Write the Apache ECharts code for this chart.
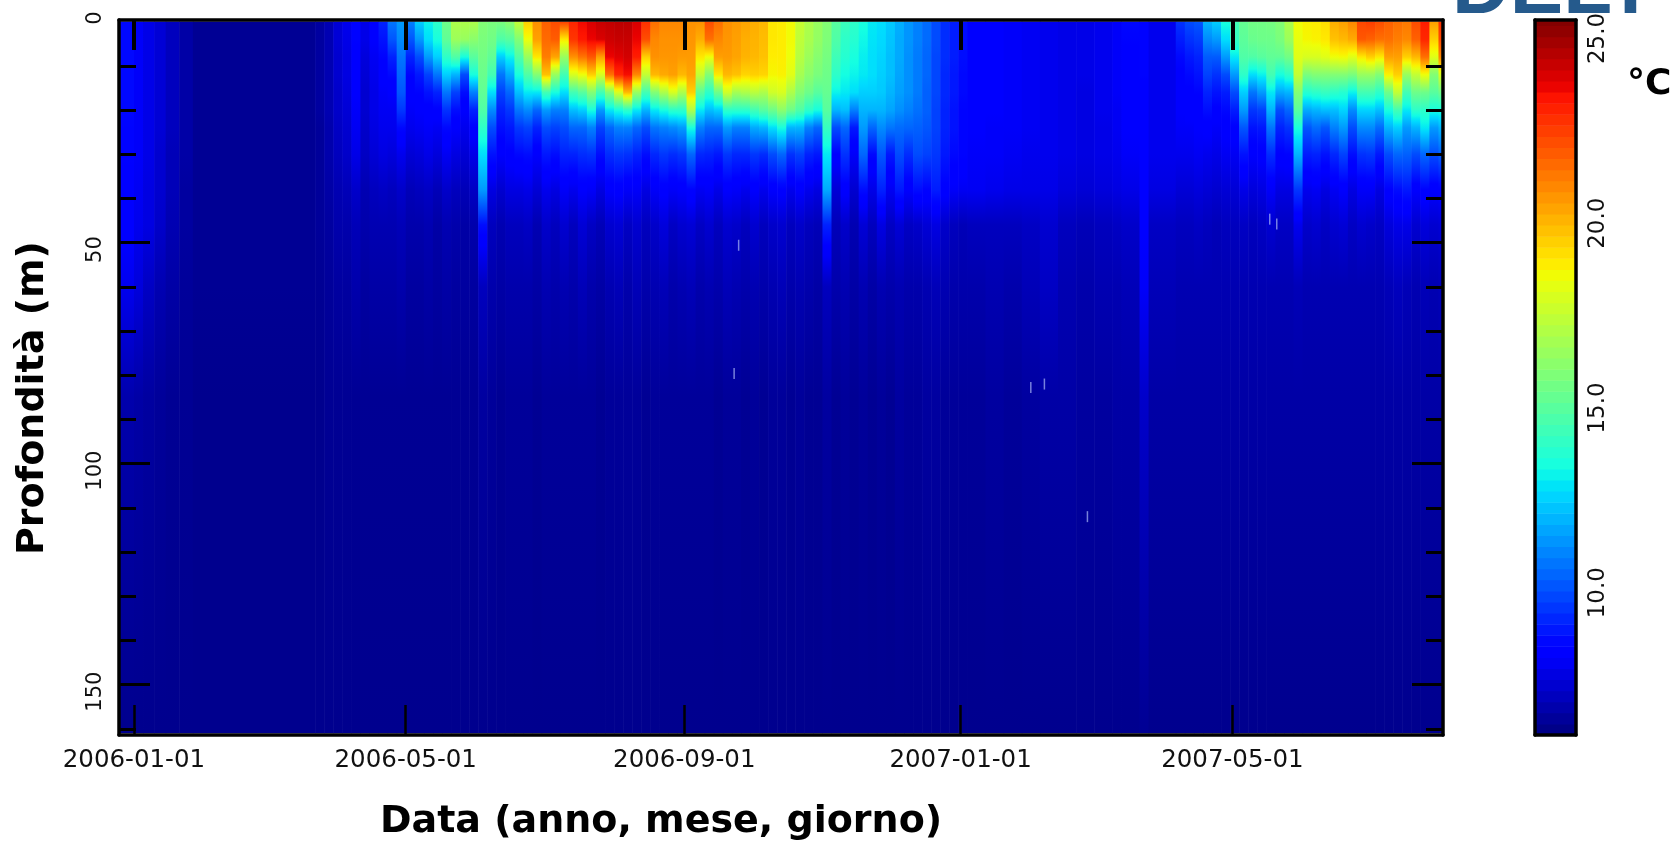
<!DOCTYPE html>
<html>
<head>
<meta charset="utf-8">
<title>Profondità / temperatura</title>
<style>
    html, body { margin: 0; padding: 0; background: #fff; overflow: hidden; }
    #chart { width: 1671px; height: 842px; }
</style>
<script src="https://cdn.jsdelivr.net/npm/echarts@6/dist/echarts.min.js"></script>
</head>
<body>
<div id="chart"></div>
<script>
/* ===== Dati ===== */
// asse x in giorni dal 2006-01-01
const xMinDay = -6.6;
const xMaxDay = 578;
const xTickDays = [0, 120, 243, 365, 485];
const xTickLabels = ["2006-01-01", "2006-05-01", "2006-09-01", "2007-01-01", "2007-05-01"];
const depthMin = -0.36;
const depthMax = 161.4;
const depthLabels = [0, 50, 100, 150];
const depthMajorTicks = [50, 100, 150];
const depthMinorTicks = [10, 20, 30, 40, 60, 70, 80, 90, 110, 120, 130, 140, 160];
const tempMin = 6.15;
const tempMax = 25.5;
const tempLabels = [10, 15, 20, 25];

// profondità (m) dei valori di ogni riga di temperatures
const depthLevels = [0, 4, 8, 12, 16, 20, 24, 30, 38, 46, 60, 85, 161];

// giorno in cui comincia ogni colonna
const columnDays = [
    -7, 0, 4, 9, 14, 20, 26, 80, 84, 88, 92, 96, 100, 104,
    108, 112, 116, 120, 124, 128, 132, 136, 140, 144, 148, 152, 156, 160, 164, 168,
    172, 176, 180, 184, 188, 192, 196, 200, 204, 208, 212, 216, 220, 224, 228, 232,
    236, 240, 244, 248, 252, 256, 260, 264, 268, 272, 276, 280, 284, 288, 292, 296,
    300, 304, 308, 312, 316, 320, 324, 328, 332, 336, 340, 344, 348, 352, 356, 360, 364,
    368, 376, 384, 392, 400, 408, 416, 424, 432, 436, 444, 448,
    460, 464, 468, 472, 476, 480, 484, 488, 492, 496, 500, 504, 508, 512, 516, 520,
    524, 528, 532, 536, 540, 544, 548, 552, 556, 560, 564, 568, 572, 576
];

const temperatures = [
    // gen - apr 2006
    [8.7,8.7,8.7,8.7,8.7,8.7,8.6,8.6,8.5,8.4,8.0,6.9,6.4],
    [8.2,8.2,8.2,8.2,8.2,8.2,8.2,8.2,8.1,8.0,7.7,6.8,6.4],
    [7.9,7.9,7.9,7.9,7.9,7.9,7.9,7.9,7.8,7.8,7.3,6.7,6.4],
    [7.6,7.6,7.6,7.6,7.6,7.6,7.6,7.5,7.5,7.4,7.0,6.6,6.4],
    [7.2,7.2,7.2,7.2,7.2,7.2,7.2,7.1,7.1,7.0,6.8,6.5,6.4],
    [6.8,6.8,6.8,6.8,6.8,6.8,6.8,6.8,6.7,6.7,6.6,6.5,6.4],
    [6.5,6.5,6.5,6.5,6.5,6.5,6.5,6.5,6.5,6.5,6.5,6.4,6.4],
    [6.7,6.7,6.7,6.7,6.7,6.7,6.6,6.6,6.6,6.6,6.5,6.4,6.4],
    [7.0,7.0,7.0,7.0,7.0,7.0,6.9,6.9,6.8,6.7,6.6,6.5,6.4],
    [7.6,7.6,7.5,7.5,7.4,7.4,7.3,7.2,7.0,6.9,6.7,6.5,6.4],
    [8.0,7.9,7.8,7.8,7.7,7.6,7.5,7.4,7.1,6.9,6.7,6.5,6.4],
    [8.6,8.6,8.5,8.4,8.3,8.2,8.1,7.9,7.4,7.1,6.9,6.5,6.4],
    [7.9,7.9,7.7,7.6,7.5,7.5,7.4,7.3,7.0,6.9,6.7,6.5,6.4],
    [8.4,8.3,8.1,8.0,7.9,7.9,7.8,7.6,7.2,7.0,6.8,6.5,6.4],
    // mag - ago 2006
    [9.2,8.9,8.6,8.4,8.2,8.1,8.0,7.8,7.3,7.0,6.8,6.5,6.4],
    [10.8,10.2,9.2,8.7,8.3,8.1,8.0,7.7,7.2,7.0,6.8,6.5,6.4],
    [11.5,11.2,10.8,10.5,10.2,9.6,8.7,8.0,7.4,7.1,6.9,6.5,6.4],
    [11.0,10.2,9.2,8.6,8.4,8.2,8.0,7.6,7.1,6.9,6.7,6.5,6.4],
    [12.5,11.5,10.0,9.0,8.6,8.3,8.1,7.7,7.2,6.9,6.7,6.5,6.4],
    [13.2,12.8,11.5,9.8,8.9,8.4,8.2,7.9,7.3,7.0,6.8,6.5,6.4],
    [14.0,13.5,12.5,10.8,9.2,8.5,8.1,7.7,7.1,6.8,6.7,6.5,6.4],
    [15.5,15.2,14.0,12.5,10.8,9.5,8.7,8.1,7.4,7.0,6.8,6.5,6.4],
    [17.0,16.6,14.8,12.0,9.8,8.8,8.3,7.8,7.2,6.9,6.7,6.5,6.4],
    [17.0,16.5,13.5,10.0,8.8,8.3,8.0,7.6,7.1,6.8,6.7,6.5,6.4],
    [17.0,16.2,15.0,13.5,11.0,9.2,8.5,7.9,7.3,6.9,6.7,6.5,6.4],
    [16.0,15.8,15.6,15.4,15.2,14.8,14.0,12.8,11.5,8.8,7.2,6.7,6.4],
    [15.8,15.6,15.2,14.5,12.8,11.2,10.0,8.9,7.8,7.2,6.9,6.6,6.4],
    [15.8,14.8,12.5,10.8,9.8,9.2,8.8,8.3,7.5,7.0,6.8,6.5,6.4],
    [16.2,15.0,13.2,11.8,10.5,9.6,9.0,8.5,7.8,7.2,6.9,6.6,6.4],
    [17.5,16.0,14.8,13.5,12.2,10.8,9.6,8.7,7.8,7.2,6.9,6.6,6.4],
    [19.5,18.5,16.5,14.8,13.0,11.2,9.8,8.8,7.9,7.3,6.9,6.6,6.4],
    [20.8,20.5,19.0,16.0,13.0,10.5,9.2,8.3,7.6,7.0,6.8,6.5,6.4],
    [21.8,21.6,21.2,19.8,14.5,11.5,10.0,9.0,8.0,7.4,7.0,6.6,6.4],
    [22.2,21.9,20.4,16.5,13.5,11.0,9.8,8.8,7.8,7.2,6.9,6.6,6.4],
    [22.5,19.0,16.5,14.5,12.8,11.0,10.0,9.2,8.2,7.5,7.0,6.6,6.4],
    [23.0,22.7,20.8,18.0,14.5,12.2,10.5,9.2,8.0,7.2,6.9,6.6,6.4],
    [23.6,23.3,21.4,18.5,15.0,12.5,10.5,9.4,8.3,7.6,7.1,6.6,6.4],
    [24.0,23.7,22.0,19.5,16.0,13.5,11.0,9.5,8.2,7.3,6.9,6.6,6.4],
    [24.3,24.0,20.5,18.0,14.5,11.5,9.8,8.8,7.8,7.1,6.8,6.5,6.4],
    [24.4,24.2,23.7,21.5,16.0,13.0,10.5,9.4,8.3,7.5,7.0,6.6,6.4],
    [24.5,24.3,23.9,23.0,18.0,13.5,11.0,9.6,8.4,7.6,7.1,6.6,6.4],
    [24.5,24.3,24.1,23.5,20.0,14.0,11.0,9.5,8.2,7.3,6.9,6.6,6.4],
    [24.0,23.7,23.2,21.0,16.5,13.0,10.5,9.2,8.2,7.5,7.1,6.6,6.4],
    [22.8,22.2,19.5,17.5,14.5,12.0,10.0,8.8,7.8,7.2,6.9,6.5,6.4],
    [21.5,21.0,20.8,20.0,16.0,13.0,10.8,9.3,8.2,7.4,7.0,6.6,6.4],
    [21.0,20.8,20.7,20.3,17.0,13.5,11.0,9.6,8.4,7.7,7.1,6.6,6.4],
    [21.0,20.8,20.7,20.5,18.0,14.0,11.2,9.4,8.2,7.3,6.9,6.6,6.4],
    [21.0,20.8,20.6,20.0,17.0,14.0,11.5,9.6,8.3,7.5,7.0,6.6,6.4],
    [20.8,20.7,20.6,20.4,19.5,17.0,13.5,10.5,8.6,7.6,7.1,6.6,6.4],
    [20.8,20.2,19.0,17.5,15.0,13.0,11.0,9.3,8.1,7.3,6.9,6.6,6.4],
    [22.2,21.5,18.5,16.0,14.0,12.2,10.5,9.2,8.2,7.5,7.0,6.6,6.4],
    [21.5,21.0,20.5,19.0,15.5,12.5,10.5,9.0,7.9,7.2,6.9,6.5,6.4],
    [20.8,20.7,20.6,20.0,17.8,14.0,11.5,9.6,8.3,7.5,7.1,6.6,6.4],
    [20.6,20.5,20.4,19.8,16.8,14.0,11.0,9.3,8.2,7.4,7.0,6.6,6.4],
    [20.4,20.2,20.1,19.4,17.0,14.0,11.0,9.3,8.0,7.2,6.9,6.5,6.4],
    [20.2,20.1,20.0,19.5,17.3,14.5,11.8,9.6,8.3,7.5,7.0,6.6,6.4],
    [20.0,19.9,19.8,19.4,17.0,15.0,12.0,9.4,8.0,7.2,6.9,6.5,6.4],
    [19.0,19.0,18.9,18.7,17.8,15.5,12.8,10.0,8.3,7.4,7.0,6.6,6.4],
    [18.9,18.9,18.9,18.8,18.0,16.2,13.5,10.5,8.4,7.5,7.1,6.6,6.4],
    [18.6,18.6,18.5,18.2,17.0,15.5,12.0,9.5,8.0,7.2,6.9,6.5,6.4],
    // set - dic 2006
    [17.6,17.4,17.2,16.8,16.0,14.8,12.0,9.8,8.3,7.4,7.0,6.6,6.4],
    [17.0,16.9,16.6,16.2,15.5,14.0,11.0,9.2,8.0,7.2,6.9,6.5,6.4],
    [16.5,16.4,16.1,15.8,15.0,13.5,10.5,9.0,7.8,7.1,6.8,6.5,6.4],
    [16.0,15.9,15.7,15.5,15.3,15.0,14.2,13.0,11.8,9.2,7.2,6.7,6.4],
    [15.0,14.8,14.4,14.0,13.2,12.0,10.0,8.5,7.6,7.1,6.9,6.5,6.4],
    [14.3,14.0,13.8,13.4,13.0,12.2,10.5,9.5,8.4,7.4,7.0,6.6,6.4],
    [14.0,13.8,13.5,13.2,12.8,11.0,9.0,8.2,7.5,7.0,6.8,6.5,6.4],
    [13.5,13.3,13.1,13.0,12.5,12.0,11.5,10.5,8.8,7.6,7.0,6.6,6.4],
    [13.0,12.9,12.8,12.8,12.5,12.0,10.5,8.7,7.9,7.2,6.8,6.5,6.4],
    [12.8,12.7,12.6,12.5,12.4,12.0,11.2,10.2,9.2,7.8,7.0,6.6,6.4],
    [12.4,12.3,12.2,12.2,12.0,11.7,10.8,9.0,8.1,7.3,6.9,6.5,6.4],
    [11.9,11.8,11.8,11.7,11.6,11.3,10.6,10.0,9.0,7.6,7.0,6.7,6.4],
    [11.4,11.4,11.3,11.3,11.3,11.0,10.5,9.4,8.3,7.3,6.9,6.6,6.4],
    [11.0,11.0,10.9,10.9,10.9,10.7,10.4,10.0,8.8,7.4,6.9,6.6,6.4],
    [10.6,10.6,10.5,10.5,10.4,10.4,10.2,9.8,8.6,7.6,7.0,6.7,6.4],
    [10.0,10.0,9.9,9.9,9.9,9.8,9.8,9.6,9.1,7.8,7.1,6.7,6.4],
    [9.4,9.4,9.4,9.3,9.3,9.2,9.2,9.0,8.5,7.4,7.0,6.6,6.4],
    [9.1,9.1,9.1,9.0,9.0,8.9,8.9,8.7,8.2,7.2,6.9,6.6,6.4],
    [8.8,8.8,8.8,8.7,8.7,8.6,8.6,8.6,8.1,7.1,6.9,6.6,6.4],
    // gen - apr 2007
    [8.4,8.4,8.4,8.4,8.3,8.3,8.3,8.2,8.1,7.2,6.9,6.6,6.4],
    [8.3,8.3,8.3,8.3,8.3,8.3,8.2,8.2,8.0,7.2,7.0,6.7,6.4],
    [8.2,8.2,8.2,8.2,8.2,8.2,8.2,8.1,7.9,7.2,6.9,6.6,6.4],
    [8.1,8.1,8.1,8.1,8.1,8.1,8.1,8.0,7.9,7.3,7.1,6.7,6.4],
    [8.0,8.0,8.0,8.0,8.0,8.0,8.0,8.0,7.9,7.5,7.3,6.8,6.4],
    [7.9,7.9,7.9,7.9,7.9,7.9,7.9,7.9,7.7,7.2,7.0,6.8,6.4],
    [7.9,7.9,7.9,7.9,7.8,7.8,7.8,7.8,7.6,7.1,6.9,6.7,6.4],
    [8.0,8.0,8.0,8.0,8.0,8.0,7.9,7.9,7.7,7.2,7.0,6.7,6.4],
    [8.2,8.2,8.2,8.2,8.2,8.1,8.1,8.0,7.8,7.3,7.0,6.8,6.4],
    [8.7,8.6,8.5,8.4,8.4,8.3,8.3,8.2,7.9,7.4,7.1,6.8,6.4],
    [8.6,8.6,8.6,8.6,8.5,8.5,8.5,8.4,8.4,8.3,8.2,7.4,6.5],
    [8.0,8.0,8.0,8.0,8.0,8.0,8.0,8.0,7.8,7.3,7.1,6.8,6.4],
    // mag - lug 2007
    [9.5,9.1,8.7,8.5,8.4,8.3,8.2,8.0,7.6,7.2,7.0,6.8,6.4],
    [10.0,9.5,9.0,8.7,8.5,8.4,8.2,8.0,7.6,7.2,7.0,6.8,6.4],
    [10.2,9.7,9.2,8.9,8.6,8.4,8.3,8.1,7.7,7.3,7.0,6.8,6.4],
    [12.0,11.2,10.3,9.8,9.2,8.8,8.4,8.0,7.6,7.2,7.0,6.8,6.4],
    [12.5,11.5,10.3,9.5,8.9,8.5,8.2,7.9,7.5,7.1,7.0,6.8,6.4],
    [13.5,12.8,11.5,10.0,9.1,8.7,8.4,8.1,7.6,7.2,7.0,6.8,6.4],
    [14.5,14.2,13.0,11.5,10.0,9.1,8.5,8.1,7.6,7.2,7.0,6.8,6.4],
    [15.3,15.1,14.8,14.0,12.5,11.5,10.2,8.9,7.9,7.3,7.0,6.8,6.4],
    [15.6,15.4,14.8,12.8,10.8,9.6,8.9,8.3,7.7,7.2,7.0,6.8,6.4],
    [15.6,15.5,15.0,13.2,11.5,9.8,9.0,8.4,7.8,7.3,7.0,6.8,6.4],
    [15.7,15.5,15.2,14.5,13.0,12.0,10.8,9.4,8.2,7.5,7.0,6.8,6.4],
    [16.0,15.8,15.2,13.5,11.8,10.0,9.2,8.5,7.8,7.3,7.0,6.8,6.4],
    [17.0,16.6,15.6,14.0,12.0,10.5,9.5,8.6,7.8,7.3,7.0,6.8,6.4],
    [18.6,18.4,18.2,17.5,16.0,15.0,13.5,12.0,9.6,8.0,7.1,6.8,6.4],
    [18.8,18.7,18.0,15.8,13.8,11.8,10.2,9.1,8.0,7.4,7.0,6.8,6.4],
    [18.9,18.8,18.0,16.0,14.0,12.0,10.6,9.2,8.1,7.5,7.0,6.8,6.4],
    [19.2,19.0,18.2,16.0,14.2,12.2,10.2,8.9,7.8,7.3,7.0,6.8,6.4],
    [20.2,19.8,18.5,16.0,14.0,12.2,11.0,9.3,8.1,7.5,7.0,6.8,6.4],
    [20.5,20.0,18.6,16.0,13.8,12.6,11.5,9.8,8.3,7.6,7.0,6.8,6.4],
    [21.0,20.3,18.2,15.8,13.2,11.2,10.0,8.8,7.8,7.3,7.0,6.8,6.4],
    [22.3,22.0,19.0,16.5,14.5,12.6,11.2,9.5,8.2,7.5,7.0,6.8,6.4],
    [22.5,21.8,19.5,16.5,14.5,12.6,11.2,9.6,8.2,7.4,7.0,6.8,6.4],
    [22.2,21.5,19.0,16.0,14.0,12.2,10.6,9.0,7.8,7.3,7.0,6.8,6.4],
    [21.8,21.5,20.5,18.8,15.5,13.5,12.0,10.0,8.5,7.7,7.1,6.8,6.4],
    [21.5,21.2,20.5,19.5,17.5,14.5,12.5,10.5,8.8,7.9,7.2,6.8,6.4],
    [21.3,21.0,19.5,16.5,14.5,13.0,11.5,10.4,9.0,7.9,7.1,6.8,6.4],
    [22.2,21.8,20.0,17.5,15.5,14.0,12.0,10.0,8.3,7.5,7.0,6.8,6.4],
    [23.2,23.0,21.5,18.5,15.5,14.0,13.0,10.5,8.6,7.7,7.1,6.8,6.4],
    [20.5,19.5,18.2,16.0,15.0,13.5,11.5,10.0,8.3,7.5,7.0,6.8,6.4],
    [22.8,22.3,21.0,18.0,15.5,13.5,12.0,10.4,8.4,7.6,7.1,6.8,6.4]
];

// piccoli segni chiari nel campo (giorno, profondità)
const speckDays = [396, 402, 421, 501.5, 504.6, 267, 265];
const speckDepths = [82.8, 82, 112, 44.7, 45.8, 50.6, 79.6];

// gradini della barra dei colori (°C)
const colorbarLevels = [
    6.15, 6.45, 6.75, 7.05, 7.35, 7.65, 7.95, 8.25, 8.55, 8.85, 9.15, 9.45, 9.75,
    10.05, 10.35, 10.65, 10.95, 11.25, 11.55, 11.85, 12.15, 12.45, 12.75, 13.05,
    13.35, 13.65, 13.95, 14.25, 14.55, 14.85, 15.15, 15.45, 15.75, 16.05, 16.35,
    16.65, 16.95, 17.25, 17.55, 17.85, 18.15, 18.45, 18.75, 19.05, 19.35, 19.65,
    19.95, 20.25, 20.55, 20.85, 21.15, 21.45, 21.75, 22.05, 22.35, 22.65, 22.95,
    23.25, 23.55, 23.85, 24.15, 24.45, 24.75, 25.05, 25.35
];

// scala jet
const jetPos = [0, 0.11, 0.125, 0.34, 0.35, 0.375, 0.64, 0.65, 0.66, 0.89, 0.91, 1];
const jetColors = ["#00007f", "#0000ff", "#0000ff", "#00dbff", "#00e5f7", "#14ffe2",
    "#eeff08", "#f7f500", "#ffec00", "#ff1400", "#e80000", "#7f0000"];

/* ===== Helper ===== */
function jet(temp) {
    const t = Math.min(1, Math.max(0, (temp - tempMin) / (tempMax - tempMin)));
    let i = 1;
    while (i < jetPos.length - 1 && jetPos[i] < t) i++;
    const f = (t - jetPos[i - 1]) / (jetPos[i] - jetPos[i - 1]);
    return echarts.color.lerp(f, [jetColors[i - 1], jetColors[i]]);
}

// stops del gradiente verticale di una colonna; ogni tratto segue il percorso jet
function columnStops(temps) {
    const stops = [];
    const last = depthLevels[depthLevels.length - 1];
    for (let i = 0; i < depthLevels.length - 1; i++) {
        const parts = 6;
        for (let p = 0; p < parts; p++) {
            const f = p / parts;
            const d = depthLevels[i] + f * (depthLevels[i + 1] - depthLevels[i]);
            stops.push({ offset: d / last, color: jet(temps[i] + f * (temps[i + 1] - temps[i])) });
        }
    }
    stops.push({ offset: 1, color: jet(temps[temps.length - 1]) });
    return stops;
}

const fieldData = columnDays.map((day, i) => {
    const next = i + 1 < columnDays.length ? columnDays[i + 1] : xMaxDay;
    return [day, next, i];
});

const colorbarData = colorbarLevels.map((lo, i) => {
    const hi = i + 1 < colorbarLevels.length ? colorbarLevels[i + 1] : tempMax;
    return [0, lo, hi];
});

const tickFont = { fontFamily: "DejaVu Sans", color: "#111" };
const blackLine = { color: "#000", width: 3.5 };

function depthAxis(position, values, length, showLine, showLabel) {
    return {
        type: "value", gridIndex: 0, position: position, inverse: true, z: 10,
        min: depthMin, max: depthMax, splitLine: { show: false },
        axisLine: { show: showLine, onZero: false, lineStyle: blackLine },
        axisTick: { show: true, inside: true, length: length, customValues: values, lineStyle: { color: "#000", width: 3 } },
        axisLabel: showLabel ? {
            show: true, customValues: depthLabels, rotate: 90, margin: 13,
            formatter: v => v === 0 ? "{z|0}" : "{n|" + v + "}",
            rich: {
                z: Object.assign({ fontSize: 21, padding: [0, 0, 0, 7] }, tickFont),
                n: Object.assign({ fontSize: 21, padding: [0, 14, 0, 0] }, tickFont)
            }
        } : { show: false }
    };
}

function dayAxis(position, tickWidth, showLabel) {
    return {
        type: "value", gridIndex: 0, position: position, z: 10,
        min: xMinDay, max: xMaxDay, splitLine: { show: false },
        axisLine: { show: true, onZero: false, lineStyle: blackLine },
        axisTick: { show: true, inside: true, length: 30, customValues: xTickDays, lineStyle: { color: "#000", width: tickWidth } },
        axisLabel: showLabel ? Object.assign({
            show: true, customValues: xTickDays, margin: 13, hideOverlap: false, fontSize: 24.5,
            formatter: v => xTickLabels[xTickDays.indexOf(v)]
        }, tickFont) : { show: false }
    };
}

function barXAxis(position) {
    return {
        type: "value", gridIndex: 1, position: position, min: 0, max: 1, z: 10,
        splitLine: { show: false }, axisTick: { show: false }, axisLabel: { show: false },
        axisLine: { show: true, onZero: false, lineStyle: blackLine }
    };
}

function barYAxis(position, showLabel) {
    return {
        type: "value", gridIndex: 1, position: position, min: tempMin, max: tempMax, z: 10,
        splitLine: { show: false }, axisTick: { show: false },
        axisLine: { show: true, onZero: false, lineStyle: blackLine },
        axisLabel: showLabel ? Object.assign({
            show: true, customValues: tempLabels, rotate: 90, margin: 11, fontSize: 23,
            formatter: v => v.toFixed(1)
        }, tickFont) : { show: false }
    };
}

/* ===== Grafico ===== */
const chart = echarts.init(document.getElementById("chart"), null, { renderer: "canvas" });

chart.setOption({
    animation: false,
    backgroundColor: "#fff",
    grid: [
        { left: 119, top: 20, width: 1324, height: 715 },
        { left: 1535, top: 20, width: 41, height: 715 }
    ],
    xAxis: [
        dayAxis("bottom", 2.5, true),
        dayAxis("top", 4, false),
        barXAxis("bottom"),
        barXAxis("top")
    ],
    yAxis: [
        depthAxis("left", depthMajorTicks, 31, true, true),
        depthAxis("left", depthMinorTicks, 17, false, false),
        depthAxis("right", depthMajorTicks, 31, true, false),
        depthAxis("right", depthMinorTicks, 17, false, false),
        barYAxis("left", false),
        barYAxis("right", true)
    ],
    series: [
        {
            type: "custom",
            xAxisIndex: 0,
            yAxisIndex: 0,
            clip: true,
            z: 1,
            encode: { x: [0, 1] },
            data: fieldData,
            renderItem(params, api) {
                const a = api.coord([api.value(0), 0]);
                const b = api.coord([api.value(1), depthLevels[depthLevels.length - 1]]);
                const stops = columnStops(temperatures[api.value(2)]);
                return {
                    type: "rect",
                    shape: { x: a[0], y: a[1], width: b[0] - a[0] + 0.6, height: b[1] - a[1] },
                    style: { fill: new echarts.graphic.LinearGradient(0, 0, 0, 1, stops) }
                };
            }
        },
        {
            type: "scatter",
            xAxisIndex: 0,
            yAxisIndex: 0,
            z: 2,
            symbol: "rect",
            symbolSize: [1.5, 11],
            itemStyle: { color: "#a9b8f5", opacity: 0.7 },
            data: speckDays.map((d, i) => [d, speckDepths[i]])
        },
        {
            type: "custom",
            xAxisIndex: 2,
            yAxisIndex: 4,
            z: 1,
            encode: { x: 0, y: [1, 2] },
            data: colorbarData,
            renderItem(params, api) {
                const lo = api.value(1);
                const hi = api.value(2);
                const a = api.coord([0, hi]);
                const b = api.coord([1, lo]);
                return {
                    type: "rect",
                    shape: { x: a[0], y: a[1], width: b[0] - a[0], height: b[1] - a[1] + 0.5 },
                    style: { fill: jet((lo + hi) / 2) }
                };
            }
        }
    ],
    graphic: [
        {
            type: "text", left: 380, top: 803,
            style: { text: "Data (anno, mese, giorno)", fontFamily: "DejaVu Sans", fontWeight: "bold", fontSize: 38, fill: "#000" }
        },
        {
            type: "text", x: 33, y: 398, rotation: Math.PI / 2,
            style: { text: "Profondità (m)", fontFamily: "DejaVu Sans", fontWeight: "bold", fontSize: 38, fill: "#000", align: "center", verticalAlign: "middle" }
        },
        {
            type: "text", left: 1627, top: 67,
            style: { text: "°C", fontFamily: "DejaVu Sans", fontWeight: "bold", fontSize: 36, fill: "#000" }
        },
        {
            type: "text", x: 1452, y: 31,
            style: { text: "DELT", fontFamily: "Liberation Sans", fontWeight: "bold", fontSize: 80, fill: "#255a8c", verticalAlign: "bottom" }
        }
    ]
});
</script>
</body>
</html>
